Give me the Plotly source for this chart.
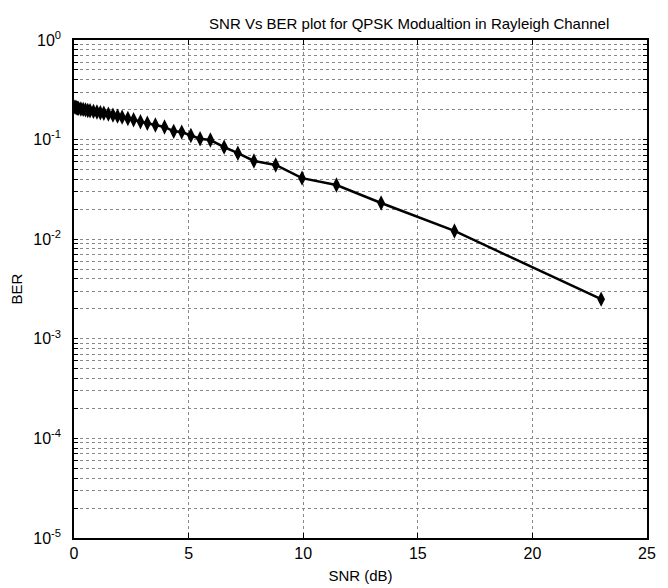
import plotly.graph_objects as go

snr_db = [0.0, 0.05, 0.1, 0.15, 0.2, 0.3, 0.4, 0.5, 0.6, 0.7, 0.85, 1.0, 1.15, 1.3, 1.5,
          1.7, 1.9, 2.1, 2.35, 2.6, 2.9, 3.2, 3.55, 3.95, 4.35, 4.7, 5.1, 5.5, 5.95,
          6.55, 7.15, 7.85, 8.8, 9.95, 11.45, 13.4, 16.6, 23.0]
ber = [0.213, 0.212, 0.209, 0.207, 0.206, 0.203, 0.201, 0.199, 0.196, 0.195, 0.192, 0.189,
       0.186, 0.184, 0.180, 0.176, 0.172, 0.168, 0.163, 0.158, 0.151, 0.146, 0.140, 0.134,
       0.121, 0.119, 0.110, 0.102, 0.099, 0.084, 0.073, 0.061, 0.0556, 0.041, 0.035,
       0.0231, 0.0121, 0.0025]

title_text = "SNR Vs BER plot for QPSK Modualtion in Rayleigh Channel"
x_ticks = [0, 5, 10, 15, 20, 25]
decades = [-5, -4, -3, -2, -1, 0]

y_vals, y_text = [], []
for d in decades:
    for m in range(1, 10):
        if d == 0 and m > 1:
            break
        y_vals.append(m * 10.0 ** d)
        y_text.append(f"10<sup>{d}</sup>" if m == 1 else "")

fig = go.Figure()
fig.add_trace(go.Scatter(
    x=snr_db, y=ber, mode="lines+markers",
    line=dict(color="black", width=2.5),
    marker=dict(symbol="diamond-tall", size=11, color="black"),
    showlegend=False,
))

fam = "Liberation Sans, Arial, sans-serif"
# page body has an 8px margin, so the figure is offset by 8px
fig.update_layout(
    width=660, height=580,
    margin=dict(l=66, r=21, t=32, b=50),
    plot_bgcolor="white", paper_bgcolor="white",
    font=dict(family=fam, size=14, color="black"),
    title=dict(text=title_text, x=0.585, xref="paper", xanchor="center",
               y=1.0, yref="paper", yanchor="bottom", pad=dict(b=11),
               font=dict(family=fam, size=15, color="black")),
)
fig.update_xaxes(
    range=[0, 25], tickvals=x_ticks, ticktext=[str(v) for v in x_ticks],
    tickfont=dict(family=fam, size=16, color="black"),
    showline=True, linecolor="black", linewidth=1.5, mirror="allticks",
    ticks="inside", ticklen=5, tickcolor="black",
    showgrid=True, gridcolor="#888888", griddash="dot", gridwidth=1,
    zeroline=False, automargin=False,
    title=dict(text="SNR (dB)", standoff=10, font=dict(family=fam, size=15, color="black")),
)
fig.update_yaxes(
    type="log", range=[-5, 0], tickvals=y_vals, ticktext=y_text,
    tickfont=dict(family=fam, size=16, color="black"),
    ticklabelstandoff=8,
    showline=True, linecolor="black", linewidth=1.5, mirror="allticks",
    ticks="inside", ticklen=4, tickcolor="black",
    showgrid=True, gridcolor="#888888", griddash="dot", gridwidth=1,
    zeroline=False, automargin=False,
    title=dict(text="BER", standoff=14, font=dict(family=fam, size=15, color="black")),
)

fig.write_html("out.html")
